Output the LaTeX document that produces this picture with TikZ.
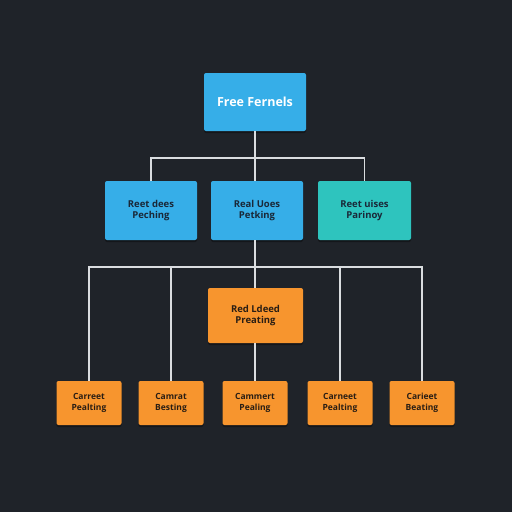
\documentclass[tikz,border=0pt]{standalone}
\usepackage{fontspec}
\setmainfont{Open Sans}
\usetikzlibrary{shadows}
\definecolor{bg}{HTML}{1F2329}
\definecolor{boxblue}{HTML}{36AEE8}
\definecolor{boxteal}{HTML}{2EC4BE}
\definecolor{boxorange}{HTML}{F7952E}
\definecolor{txtdark}{HTML}{1A2838}
\definecolor{txtbrown}{HTML}{2A1E14}
\definecolor{linec}{HTML}{DADDE0}
\tikzset{
  base/.style={rounded corners=2pt, inner sep=0pt, align=center, font=\fontsize{9.5}{11.5}\selectfont\bfseries,
    drop shadow={shadow xshift=0pt, shadow yshift=-2pt, opacity=0.35, fill=black}},
  bluebox/.style={base, fill=boxblue, text=txtdark, minimum width=92pt, minimum height=59pt},
  topbox/.style={base, fill=boxblue, text=white, minimum width=102pt, minimum height=58pt, font=\fontsize{12.5}{14}\selectfont\bfseries},
  tealbox/.style={base, fill=boxteal, text=txtdark, minimum width=93pt, minimum height=59pt},
  midbox/.style={base, fill=boxorange, text=txtbrown, minimum width=95pt, minimum height=55pt},
  leafbox/.style={base, fill=boxorange, text=txtbrown, minimum width=65pt, minimum height=44pt, font=\fontsize{8.5}{10.5}\selectfont\bfseries},
  conn/.style={draw=linec, line width=1.5pt},
}
\begin{document}
\begin{tikzpicture}[x=1pt,y=-1pt]
\fill[bg] (0,0) rectangle (512,512);
\useasboundingbox (0,0) rectangle (512,512);
\node[topbox] (top) at (255,102) {Free Fernels};
\node[bluebox] (b1) at (151,210.5) {Reet dees\\Peching};
\node[bluebox] (b2) at (257,210.5) {Real Uoes\\Petking};
\node[tealbox] (b3) at (364.5,210.5) {Reet uises\\Parinoy};
\node[midbox] (m) at (255.5,315.5) {Red Ldeed\\Preating};
\node[leafbox] (l1) at (89,403) {Carreet\\Pealting};
\node[leafbox] (l2) at (171,403) {Camrat\\Besting};
\node[leafbox] (l3) at (255,403) {Cammert\\Pealing};
\node[leafbox] (l4) at (340,403) {Carneet\\Pealting};
\node[leafbox] (l5) at (422,403) {Carieet\\Beating};
\coordinate (j1) at (255,158);
\coordinate (j2) at (255,267);
% level 1 -> 2
\draw[conn] (top.south) -- (j1);
\draw[conn] (j1) -| (b1.north);
\draw[conn] (j1) -| (b3.north);
\draw[conn] (j1) -- (b2.north -| j1);
% level 2 -> 3
\draw[conn] (b2.south -| j2) -- (j2);
\draw[conn] (j2) -| (l1.north);
\draw[conn] (j2) -| (l2.north);
\draw[conn] (j2) -| (l4.north);
\draw[conn] (j2) -| (l5.north);
\draw[conn] (j2) -- (m.north -| j2);
\draw[conn] (m.south -| j2) -- (l3.north -| j2);
\end{tikzpicture}
\end{document}
